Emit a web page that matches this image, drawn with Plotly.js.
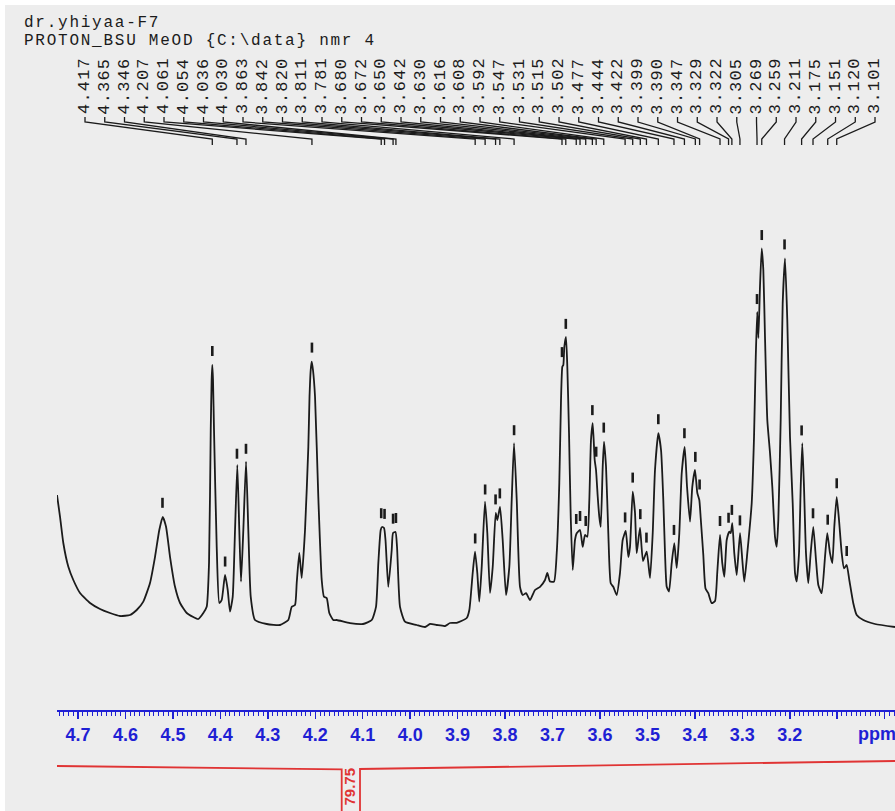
<!DOCTYPE html>
<html>
<head>
<meta charset="utf-8">
<script src="https://cdn.plot.ly/plotly-3.0.1.min.js"></script>
<style>
  html, body { margin: 0; padding: 0; background: #ededed; }
  #chart { width: 895px; height: 811px; }
</style>
</head>
<body>
<div id="chart"></div>
<script>
// 1H NMR spectrum, MeOD, 3.0–4.75 ppm
const sampleName = 'dr.yhiyaa-F7';
const experiment = 'PROTON_BSU MeOD {C:\\data} nmr 4';

// chemical shift (ppm) and intensity (arbitrary units) along the trace
const shift = [
  4.7443, 4.7379, 4.7310, 4.7204, 4.7099, 4.6958, 4.6747, 4.6536, 4.6326, 4.6115,
  4.5904, 4.5763, 4.5624, 4.5483, 4.5377, 4.5287, 4.5215, 4.5145, 4.5061, 4.4956,
  4.4850, 4.4709, 4.4570, 4.4465, 4.4359, 4.4288, 4.4239, 4.4203, 4.4184, 4.4170,
  4.4155, 4.4134, 4.4077, 4.4022, 4.3972, 4.3902, 4.3845, 4.3797, 4.3740, 4.3691,
  4.3643, 4.3601, 4.3565, 4.3516, 4.3459, 4.3411, 4.3360, 4.3270, 4.3023, 4.2743,
  4.2568, 4.2496, 4.2427, 4.2391, 4.2336, 4.2286, 4.2216, 4.2146, 4.2121, 4.2096,
  4.2075, 4.2048, 4.2005, 4.1936, 4.1864, 4.1816, 4.1759, 4.1704, 4.1620, 4.1548,
  4.1268, 4.0994, 4.0810, 4.0720, 4.0671, 4.0621, 4.0593, 4.0551, 4.0520, 4.0461,
  4.0389, 4.0361, 4.0309, 4.0277, 4.0214, 4.0109, 3.9862, 3.9687, 3.9582, 3.9440,
  3.9266, 3.9160, 3.9019, 3.8808, 3.8753, 3.8682, 3.8633, 3.8585, 3.8543, 3.8492,
  3.8423, 3.8374, 3.8317, 3.8260, 3.8197, 3.8163, 3.8106, 3.8050, 3.7980, 3.7910,
  3.7860, 3.7811, 3.7754, 3.7685, 3.7628, 3.7558, 3.7474, 3.7369, 3.7263, 3.7158,
  3.7110, 3.7053, 3.6968, 3.6911, 3.6857, 3.6821, 3.6793, 3.6772, 3.6751, 3.6716,
  3.6688, 3.6652, 3.6616, 3.6574, 3.6526, 3.6490, 3.6420, 3.6364, 3.6315, 3.6267,
  3.6224, 3.6189, 3.6153, 3.6111, 3.6083, 3.6047, 3.6014, 3.5984, 3.5942, 3.5915,
  3.5872, 3.5824, 3.5773, 3.5719, 3.5647, 3.5578, 3.5521, 3.5457, 3.5402, 3.5367,
  3.5310, 3.5261, 3.5226, 3.5156, 3.5093, 3.5015, 3.4945, 3.4888, 3.4840, 3.4770,
  3.4713, 3.4665, 3.4629, 3.4593, 3.4545, 3.4488, 3.4433, 3.4383, 3.4328, 3.4277,
  3.4214, 3.4165, 3.4102, 3.4054, 3.3997, 3.3948, 3.3906, 3.3877, 3.3822, 3.3776,
  3.3717, 3.3645, 3.3575, 3.3527, 3.3470, 3.3422, 3.3379, 3.3329, 3.3274, 3.3244,
  3.3211, 3.3169, 3.3118, 3.3048, 3.3000, 3.2958, 3.2895, 3.2802, 3.2753, 3.2718,
  3.2686, 3.2661, 3.2627, 3.2591, 3.2557, 3.2522, 3.2473, 3.2416, 3.2368, 3.2311,
  3.2275, 3.2241, 3.2191, 3.2149, 3.2100, 3.2052, 3.1995, 3.1938, 3.1889, 3.1854,
  3.1805, 3.1769, 3.1736, 3.1700, 3.1658, 3.1609, 3.1559, 3.1504, 3.1447, 3.1398,
  3.1327, 3.1257, 3.1209, 3.1152, 3.1103, 3.1061, 3.1011, 3.0962, 3.0905, 3.0857,
  3.0800, 3.0745, 3.0661, 3.0589, 3.0450, 3.0203, 2.9782
];
const intensity = [
  36.25, 30.8, 24.25, 18.3, 15.0, 11.75, 9.25, 7.75, 6.75, 6.0,
  6.25, 7.5, 9.6, 14.25, 20.8, 27.5, 30.8, 28.3, 20.8, 13.3,
  9.25, 6.75, 5.75, 5.25, 6.75, 8.3, 19.25, 52.5, 65.0, 68.75,
  65.0, 52.5, 23.3, 9.25, 10.0, 16.25, 12.5, 7.1, 10.8, 27.5,
  43.75, 27.5, 14.6, 27.5, 44.6, 27.5, 10.8, 5.0, 4.0, 3.75,
  5.0, 8.3, 8.75, 14.25, 21.75, 15.5, 27.5, 48.3, 60.8, 67.5,
  69.6, 67.5, 60.8, 35.8, 15.0, 10.8, 10.5, 6.75, 5.0, 5.0,
  4.2, 4.0, 5.0, 8.3, 19.25, 27.5, 28.25, 28.0, 25.0, 13.3,
  22.5, 26.75, 27.0, 23.3, 8.3, 4.6, 3.75, 3.25, 4.0, 3.75,
  3.5, 4.25, 4.3, 5.5, 7.5, 16.75, 22.1, 16.75, 9.6, 18.3,
  34.6, 26.75, 11.75, 18.3, 31.75, 30.0, 33.3, 25.0, 11.25, 18.3,
  35.0, 49.2, 35.0, 13.3, 11.25, 11.7, 10.0, 12.5, 13.3, 15.0,
  16.75, 14.6, 14.6, 21.75, 39.25, 60.0, 68.3, 68.75, 73.3, 75.8,
  68.3, 51.75, 30.8, 17.5, 25.0, 26.7, 27.5, 23.3, 26.25, 25.8,
  35.0, 50.0, 54.2, 45.0, 42.5, 35.8, 30.8, 28.3, 43.3, 49.6,
  43.3, 26.7, 14.2, 13.3, 11.25, 16.7, 25.0, 27.25, 20.75, 23.3,
  37.1, 31.7, 21.7, 28.1, 19.75, 22.1, 15.5, 26.7, 42.5, 51.7,
  47.5, 35.0, 21.7, 13.3, 12.1, 19.2, 24.2, 18.0, 26.7, 41.7,
  48.3, 38.3, 29.6, 38.3, 42.5, 36.75, 35.0, 30.5, 21.25, 12.9,
  11.7, 9.2, 9.75, 17.0, 26.25, 19.2, 15.8, 25.0, 27.1, 26.7,
  29.2, 21.7, 16.25, 26.7, 20.0, 14.6, 21.7, 34.2, 50.8, 70.0,
  82.0, 75.5, 88.5, 97.9, 92.5, 75.8, 55.0, 46.7, 38.3, 25.8,
  23.3, 30.0, 55.0, 84.2, 95.4, 80.0, 50.8, 34.2, 16.7, 14.6,
  21.7, 38.3, 49.2, 38.3, 21.7, 14.2, 21.7, 28.3, 20.0, 13.75,
  11.7, 20.8, 26.7, 21.7, 19.2, 28.3, 35.8, 30.0, 21.7, 17.9,
  18.75, 15.0, 9.2, 6.25, 5.0, 4.0, 3.25
];

// picked peaks with printed shift labels
const peakLabels = [
  4.417, 4.365, 4.346, 4.207, 4.061, 4.054, 4.036, 4.030, 3.863, 3.842,
  3.820, 3.811, 3.781, 3.680, 3.672, 3.650, 3.642, 3.630, 3.616, 3.608,
  3.592, 3.547, 3.531, 3.515, 3.502, 3.477, 3.444, 3.422, 3.399, 3.390,
  3.347, 3.329, 3.322, 3.305, 3.269, 3.259, 3.211, 3.175, 3.151, 3.120,
  3.101
];
// picked peaks without a printed label
const unlabeledPeaks = [4.522, 4.390, 3.080];

// axis ticks
const tickPpm = [4.7, 4.6, 4.5, 4.4, 4.3, 4.2, 4.1, 4.0, 3.9, 3.8, 3.7, 3.6, 3.5, 3.4, 3.3, 3.2, 3.1, 3.0];
const tickText = ['4.7', '4.6', '4.5', '4.4', '4.3', '4.2', '4.1', '4.0', '3.9', '3.8', '3.7', '3.6', '3.5', '3.4', '3.3', '3.2', '', ''];

// integral over the displayed region
const integralValue = 79.75;

// ---------------------------------------------------------------
const W = 895, H = 811;
const rowToPaper = r => 1 - r / H;      // pixel row -> paper fraction
const ink = '#1b1b1b';
const blue = '#1f1fd4';
const red = '#e03434';
const monoFont = 'Liberation Mono, Courier New, monospace';
const sansFont = 'Liberation Sans, Arial, sans-serif';

const xRange = [4.7443, 2.9782];

function intensityAt(p) {
  for (let i = 0; i < shift.length - 1; i++) {
    const a = shift[i], b = shift[i + 1];
    if (p <= a && p >= b) {
      const t = (a - p) / (a - b);
      return intensity[i] + t * (intensity[i + 1] - intensity[i]);
    }
  }
  return 0;
}
function localTop(p) {
  let m = -Infinity;
  for (let d = -0.0015; d <= 0.00151; d += 0.0005) m = Math.max(m, intensityAt(p + d));
  return m;
}

const spectrum = {
  x: shift, y: intensity,
  type: 'scatter', mode: 'lines',
  line: { color: ink, width: 1.8, shape: 'spline', smoothing: 0.5 },
  hoverinfo: 'skip'
};

const shapes = [];
const annotations = [];

// label row across the top, evenly spaced, joined to each peak by a bent leader
const labelFirst = 4.6853, labelLast = 3.0203;
peakLabels.forEach((p, i) => {
  const lx = labelFirst + i * (labelLast - labelFirst) / (peakLabels.length - 1);
  annotations.push({
    x: lx, xref: 'x', y: rowToPaper(86), yref: 'paper',
    text: p.toFixed(3), textangle: -90, showarrow: false,
    xanchor: 'center', yanchor: 'middle',
    font: { family: monoFont, size: 17, color: ink }
  });
  shapes.push({
    type: 'path', xref: 'x', yref: 'paper',
    path: `M ${lx},${rowToPaper(117)} L ${lx},${rowToPaper(122)} L ${p},${rowToPaper(139)} L ${p},${rowToPaper(145)}`,
    line: { color: ink, width: 1.3 }
  });
});

// small ticks over every picked peak
peakLabels.concat(unlabeledPeaks).forEach(p => {
  shapes.push({
    type: 'line', xref: 'x', yref: 'y', ysizemode: 'pixel',
    yanchor: localTop(p), x0: p, x1: p, y0: 9, y1: 19,
    line: { color: ink, width: 2.6 }
  });
});

// integral trace with its value box
const boxLeft = 4.1443, boxRight = 4.1057;
shapes.push({
  type: 'path', xref: 'x', yref: 'paper',
  path: `M ${xRange[0]},${rowToPaper(766)} L ${boxLeft},${rowToPaper(769.3)} L ${boxLeft},${rowToPaper(815)}`,
  line: { color: red, width: 1.8 }
});
shapes.push({
  type: 'path', xref: 'x', yref: 'paper',
  path: `M ${boxRight},${rowToPaper(815)} L ${boxRight},${rowToPaper(769)} L ${xRange[1]},${rowToPaper(761)}`,
  line: { color: red, width: 1.8 }
});
annotations.push({
  x: 4.1299, xref: 'x', y: rowToPaper(787), yref: 'paper',
  text: integralValue.toFixed(2), textangle: -90, showarrow: false,
  xanchor: 'center', yanchor: 'middle',
  font: { family: sansFont, size: 15, color: red, weight: 'bold' }
});

// two-line header as one text block
annotations.push({
  x: 22 / W, xref: 'paper', y: rowToPaper(12), yref: 'paper',
  text: sampleName + '<br>' + experiment, showarrow: false,
  xanchor: 'left', yanchor: 'top', align: 'left',
  font: { family: monoFont, size: 16, color: ink }
});

// unit label at the end of the axis
annotations.push({
  x: 856 / W, xref: 'paper', y: rowToPaper(734), yref: 'paper',
  text: 'ppm', showarrow: false, xanchor: 'left', yanchor: 'middle',
  font: { family: sansFont, size: 18, color: blue, weight: 'bold' }
});

// thin white frame at the top and left
shapes.push({ type: 'rect', xref: 'paper', yref: 'paper', x0: 0, x1: 1, y0: rowToPaper(5), y1: 1, fillcolor: '#ffffff', line: { width: 0 } });
shapes.push({ type: 'rect', xref: 'paper', yref: 'paper', x0: 0, x1: 5 / W, y0: 0, y1: 1, fillcolor: '#ffffff', line: { width: 0 } });

const layout = {
  width: W, height: H,
  margin: { l: 0, r: 0, t: 0, b: 0 },
  paper_bgcolor: '#ededed', plot_bgcolor: '#ededed',
  showlegend: false,
  xaxis: {
    domain: [57 / W, 1], range: xRange,
    anchor: 'free', position: rowToPaper(711),
    showline: true, linecolor: blue, linewidth: 2,
    ticks: 'outside', ticklen: 7, tickwidth: 1.5, tickcolor: blue,
    tickmode: 'array', tickvals: tickPpm, ticktext: tickText,
    tickfont: { family: sansFont, size: 18, color: blue, weight: 'bold' },
    minor: { tickmode: 'linear', tick0: 0, dtick: 0.01, ticks: 'outside', ticklen: 4, tickwidth: 1, tickcolor: blue, showgrid: false },
    showgrid: false, zeroline: false, fixedrange: true
  },
  yaxis: {
    domain: [0, 1], range: [(640 - H) / 4, 640 / 4],
    visible: false, fixedrange: true
  },
  shapes, annotations
};

Plotly.newPlot('chart', [spectrum], layout, { staticPlot: true, displayModeBar: false }).then(() => {
  document.querySelectorAll('.annotation-text').forEach(t => {
    if ((t.style.fontFamily || '').indexOf('Mono') === -1) return;
    const lines = t.querySelectorAll('tspan.line');
    if (lines.length > 1) {
      // header: wider character pitch, lines 18px apart
      t.style.letterSpacing = '1.75px';
      lines.forEach((ln, k) => { if (k > 0) ln.setAttribute('dy', (k * 1.14) + 'em'); });
    } else {
      // shift labels: wider character pitch
      t.style.letterSpacing = '1.2px';
    }
  });
});
</script>
</body>
</html>
